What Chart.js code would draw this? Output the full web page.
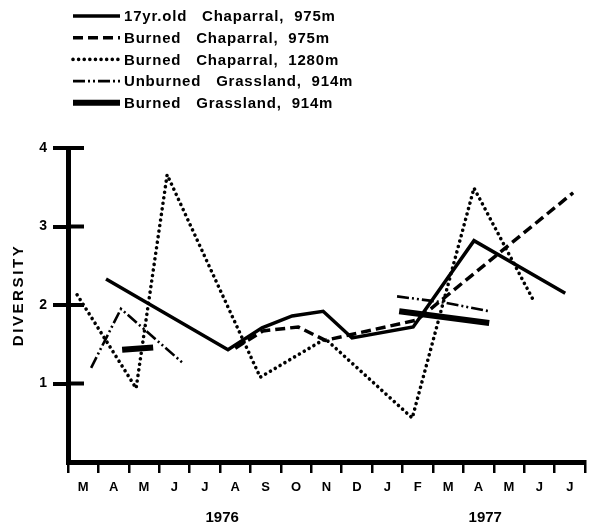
<!DOCTYPE html>
<html>
<head>
<meta charset="utf-8">
<script src="https://cdn.jsdelivr.net/npm/chart.js@4.4.1/dist/chart.umd.min.js"></script>
<style>
  html, body { margin: 0; padding: 0; background: #fff; }
  #wrap { width: 589px; height: 526px; position: relative; }
</style>
</head>
<body>
<div id="wrap"><canvas id="divChart"></canvas></div>
<script>
const months = ['M', 'A', 'M', 'J', 'J', 'A', 'S', 'O', 'N', 'D', 'J', 'F', 'M', 'A', 'M', 'J', 'J'];
const years = ['1976', '1977'];
const yTicks = [1, 2, 3, 4];

// sample dates as month index (0 = March 1976), diversity values
const chap17Month = [0.75, 4.76, 5.88, 6.87, 7.89, 8.84, 10.85, 12.85, 15.85];
const chap17Div   = [2.33, 1.43, 1.71, 1.86, 1.92, 1.58, 1.72, 2.82, 2.15];

const burnChap975Month = [5.0, 5.91, 7.07, 7.96, 8.78, 10.98, 16.11];
const burnChap975Div   = [1.45, 1.67, 1.72, 1.55, 1.62, 1.81, 3.43];

const burnChap1280Month = [-0.2, 1.74, 2.76, 5.82, 7.96, 10.82, 12.85, 14.83];
const burnChap1280Div   = [2.13, 0.94, 3.66, 1.08, 1.57, 0.56, 3.49, 2.04];

const unburnGrassMonth = [0.26, 1.24, 3.28, 6, 10.32, 11.9, 13.35];
const unburnGrassDiv   = [1.2, 1.95, 1.26, null, 2.11, 2.03, 1.92];

const burnGrassMonth = [1.28, 2.3, 6, 10.39, 13.35];
const burnGrassDiv   = [1.43, 1.46, null, 1.92, 1.77];

const FONT = '"Liberation Sans", Arial, Helvetica, sans-serif';

function pts(xs, ys) {
  return xs.map((x, i) => ({ x: x, y: ys[i] }));
}

const datasets = [
  { label: '17yr.old   Chaparral,  975m', data: pts(chap17Month, chap17Div),
    borderWidth: 3.5, borderDash: [] },
  { label: 'Burned   Chaparral,  975m', data: pts(burnChap975Month, burnChap975Div),
    borderWidth: 3.5, borderDash: [10, 5] },
  { label: 'Burned   Chaparral,  1280m', data: pts(burnChap1280Month, burnChap1280Div),
    borderWidth: 3.6, borderDash: [0.01, 5.6], borderCapStyle: 'round' },
  { label: 'Unburned   Grassland,  914m', data: pts(unburnGrassMonth, unburnGrassDiv),
    borderWidth: 2.6, borderDash: [12, 3, 2, 3, 2, 3] },
  { label: 'Burned   Grassland,  914m', data: pts(burnGrassMonth, burnGrassDiv),
    borderWidth: 6, borderDash: [] }
];
datasets.forEach(d => {
  d.borderColor = '#000';
  d.backgroundColor = '#000';
  d.pointRadius = 0;
  d.tension = 0;
  d.fill = false;
  d.spanGaps = false;
});

// legend column at the top left
const legendPlugin = {
  id: 'stackLegend',
  afterDraw(chart) {
    const ctx = chart.ctx;
    ctx.save();
    ctx.font = 'bold 15px ' + FONT;
    ctx.letterSpacing = '0.8px';
    ctx.textBaseline = 'middle';
    ctx.fillStyle = '#000';
    chart.data.datasets.forEach((ds, i) => {
      const y = 16 + i * 21.7;
      ctx.beginPath();
      ctx.lineWidth = ds.borderWidth;
      ctx.setLineDash(ds.borderDash || []);
      ctx.lineCap = ds.borderCapStyle || 'butt';
      ctx.strokeStyle = '#000';
      ctx.moveTo(73, y);
      ctx.lineTo(120, y);
      ctx.stroke();
      ctx.setLineDash([]);
      ctx.fillText(ds.label, 124, y + 1);
    });
    ctx.restore();
  }
};

// axis extras: inner tick stubs, rotated title, year labels
const axisPlugin = {
  id: 'axisExtras',
  afterDraw(chart) {
    const ctx = chart.ctx;
    const area = chart.chartArea;
    const ys = chart.scales.y;
    const xs = chart.scales.x;
    ctx.save();
    ctx.strokeStyle = '#000';
    ctx.lineWidth = 4;
    yTicks.forEach(v => {
      const py = ys.getPixelForValue(v);
      ctx.beginPath();
      ctx.moveTo(area.left, py);
      ctx.lineTo(area.left + 16, py);
      ctx.stroke();
    });

    ctx.fillStyle = '#000';
    ctx.font = 'bold 15px ' + FONT;
    ctx.letterSpacing = '2.6px';
    ctx.translate(19, 295);
    ctx.rotate(-Math.PI / 2);
    ctx.textAlign = 'center';
    ctx.textBaseline = 'middle';
    ctx.fillText('DIVERSITY', 0, 0);
    ctx.restore();

    ctx.save();
    ctx.fillStyle = '#000';
    ctx.font = 'bold 15px ' + FONT;
    ctx.textAlign = 'center';
    ctx.textBaseline = 'middle';
    const yearAt = [4.57, 13.22];
    years.forEach((t, i) => {
      ctx.fillText(t, xs.getPixelForValue(yearAt[i]), 518);
    });
    ctx.restore();
  }
};

new Chart(document.getElementById('divChart'), {
  type: 'line',
  data: { datasets: datasets },
  options: {
    responsive: true,
    maintainAspectRatio: false,
    animation: false,
    layout: { padding: { top: 148, right: 4, left: 0, bottom: 0 } },
    plugins: {
      legend: { display: false },
      tooltip: { enabled: false }
    },
    scales: {
      x: {
        type: 'linear',
        min: -0.5,
        max: 16.5,
        display: false
      },
      xm: {
        type: 'category',
        position: 'bottom',
        labels: months,
        offset: true,
        afterFit(s) { s.height = 64; },
        border: { display: true, color: '#000', width: 5 },
        grid: {
          offset: true,
          drawOnChartArea: false,
          color: '#000',
          lineWidth: 2.5,
          tickLength: 11
        },
        ticks: {
          color: '#000',
          padding: 7,
          maxRotation: 0,
          autoSkip: false,
          font: { family: FONT, size: 13, weight: 'bold' }
        }
      },
      y: {
        min: 0,
        max: 4,
        afterFit(s) { s.width = 68; },
        afterBuildTicks(s) { s.ticks = [0].concat(yTicks).map(v => ({ value: v })); },
        border: { display: true, color: '#000', width: 5 },
        grid: {
          drawOnChartArea: false,
          color: c => (c.tick && c.tick.value === 0) ? 'rgba(0,0,0,0)' : '#000',
          lineWidth: 4,
          tickLength: 15
        },
        ticks: {
          color: '#000',
          padding: 6,
          callback: v => v === 0 ? '' : String(v),
          font: { family: FONT, size: 14, weight: 'bold' }
        }
      }
    }
  },
  plugins: [legendPlugin, axisPlugin]
});
</script>
</body>
</html>
